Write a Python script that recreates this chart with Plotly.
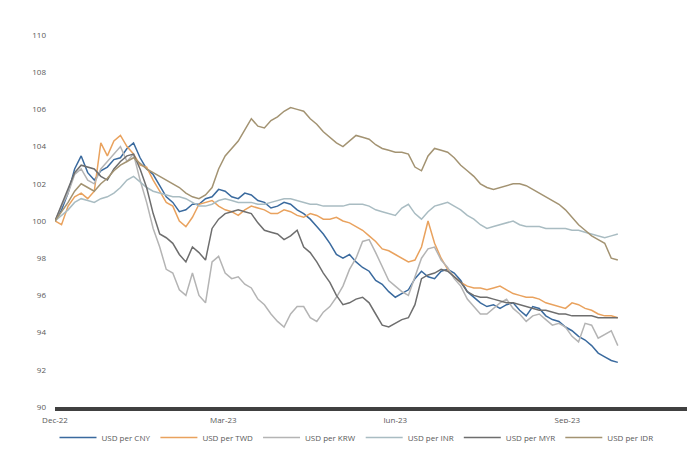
import pandas as pd
import plotly.graph_objects as go

dates = pd.date_range("2022-12-01", periods=87, freq="84h")

series_names = ["USD per CNY", "USD per TWD", "USD per KRW", "USD per INR", "USD per MYR", "USD per IDR"]

cny = [100.0, 100.6, 101.5, 102.8, 103.5, 102.6, 102.2, 102.7, 102.9, 103.3,
       103.4, 103.9, 104.2, 103.4, 102.8, 102.5, 101.9, 101.3, 101.0, 100.5,
       100.6, 100.9, 100.9, 101.2, 101.3, 101.7, 101.6, 101.3, 101.2, 101.5,
       101.4, 101.1, 101.0, 100.7, 100.8, 101.0, 100.9, 100.6, 100.4, 100.1,
       99.7, 99.3, 98.8, 98.2, 98.0, 98.2, 97.8, 97.5, 97.3, 96.8,
       96.6, 96.2, 95.9, 96.1, 96.3, 96.9, 97.3, 97.0, 96.9, 97.3,
       97.4, 97.2, 96.8, 96.2, 95.9, 95.6, 95.4, 95.5, 95.3, 95.5,
       95.6, 95.2, 94.9, 95.4, 95.3, 94.9, 94.7, 94.6, 94.3, 94.1,
       93.8, 93.6, 93.3, 92.9, 92.7, 92.5, 92.4]
twd = [100.0, 99.8, 100.8, 101.3, 101.5, 101.2, 101.6, 104.2, 103.5, 104.3,
       104.6, 104.0, 103.6, 103.0, 102.9, 102.2, 101.6, 101.0, 100.8, 100.0,
       99.7, 100.2, 100.9, 101.0, 101.1, 100.8, 100.6, 100.5, 100.3, 100.6,
       100.8, 100.7, 100.6, 100.4, 100.4, 100.6, 100.5, 100.3, 100.2, 100.4,
       100.3, 100.1, 100.1, 100.2, 100.0, 99.9, 99.7, 99.5, 99.2, 98.9,
       98.5, 98.4, 98.2, 98.0, 97.8, 97.9, 98.6, 100.0, 98.8, 98.0,
       97.4, 97.0, 96.7, 96.5, 96.4, 96.4, 96.3, 96.4, 96.5, 96.3,
       96.1, 96.0, 95.9, 95.9, 95.8, 95.6, 95.5, 95.4, 95.3, 95.6,
       95.5, 95.3, 95.2, 95.0, 94.9, 94.9, 94.8]
krw = [100.0, 100.8, 101.5, 102.5, 102.8, 102.2, 102.0, 102.8, 103.2, 103.6,
       104.0, 103.2, 103.6, 102.2, 101.0, 99.6, 98.6, 97.4, 97.2, 96.3,
       96.0, 97.2, 96.0, 95.6, 97.8, 98.1, 97.2, 96.9, 97.0, 96.6,
       96.4, 95.8, 95.5, 95.0, 94.6, 94.3, 95.0, 95.4, 95.4, 94.8,
       94.6, 95.1, 95.4, 95.9, 96.5, 97.4, 98.0, 98.9, 99.0, 98.3,
       97.5, 96.8, 96.5, 96.2, 96.0, 97.0, 98.0, 98.5, 98.6, 97.9,
       97.5, 96.9, 96.5, 95.8, 95.4, 95.0, 95.0, 95.3, 95.6, 95.8,
       95.3, 95.0, 94.6, 94.9, 95.0, 94.7, 94.4, 94.5, 94.3, 93.8,
       93.5, 94.5, 94.4, 93.7, 93.9, 94.1, 93.3]
inr = [100.0, 100.3, 100.6, 101.0, 101.2, 101.1, 101.0, 101.2, 101.3, 101.5,
       101.8, 102.2, 102.4, 102.1, 101.8, 101.6, 101.5, 101.4, 101.3, 101.3,
       101.2, 101.0, 100.8, 100.8, 100.9, 101.1, 101.2, 101.1, 101.0, 101.0,
       101.0, 100.9, 100.9, 101.0, 101.1, 101.2, 101.2, 101.1, 101.0, 100.9,
       100.9, 100.8, 100.8, 100.8, 100.8, 100.9, 100.9, 100.9, 100.8, 100.6,
       100.5, 100.4, 100.3, 100.7, 100.9, 100.4, 100.1, 100.5, 100.8, 100.9,
       101.0, 100.8, 100.6, 100.3, 100.1, 99.8, 99.6, 99.7, 99.8, 99.9,
       100.0, 99.8, 99.7, 99.7, 99.7, 99.6, 99.6, 99.6, 99.6, 99.5,
       99.5, 99.4, 99.3, 99.2, 99.1, 99.2, 99.3]
myr = [100.0, 100.9, 101.8, 102.6, 103.0, 102.9, 102.8, 102.4, 102.2, 102.8,
       103.2, 103.5, 103.6, 102.8, 101.8, 100.4, 99.3, 99.1, 98.8, 98.2,
       97.8, 98.6, 98.3, 97.9, 99.6, 100.1, 100.4, 100.5, 100.6, 100.5,
       100.4, 99.9, 99.5, 99.4, 99.3, 99.0, 99.2, 99.5, 98.6, 98.3,
       97.8, 97.2, 96.7, 96.0, 95.5, 95.6, 95.8, 95.9, 95.6, 95.0,
       94.4, 94.3, 94.5, 94.7, 94.8, 95.5, 96.9, 97.1, 97.2, 97.4,
       97.3, 97.0, 96.7, 96.2, 96.0, 95.9, 95.9, 95.8, 95.7, 95.6,
       95.6, 95.5, 95.4, 95.3, 95.2, 95.2, 95.1, 95.0, 95.0, 94.9,
       94.9, 94.9, 94.9, 94.8, 94.8, 94.8, 94.8]
idr = [100.0, 100.5, 101.0, 101.6, 102.0, 101.8, 101.6, 102.0, 102.3, 102.7,
       103.0, 103.2, 103.4, 103.1, 102.8, 102.6, 102.4, 102.2, 102.0, 101.8,
       101.5, 101.3, 101.2, 101.4, 101.8, 102.8, 103.5, 103.9, 104.3, 104.9,
       105.5, 105.1, 105.0, 105.4, 105.6, 105.9, 106.1, 106.0, 105.9, 105.5,
       105.2, 104.8, 104.5, 104.2, 104.0, 104.3, 104.6, 104.5, 104.4, 104.1,
       103.9, 103.8, 103.7, 103.7, 103.6, 102.9, 102.7, 103.5, 103.9, 103.8,
       103.7, 103.4, 103.0, 102.7, 102.4, 102.0, 101.8, 101.7, 101.8, 101.9,
       102.0, 102.0, 101.9, 101.7, 101.5, 101.3, 101.1, 100.9, 100.6, 100.2,
       99.8, 99.5, 99.2, 99.0, 98.8, 98.0, 97.9]

values = [cny, twd, krw, inr, myr, idr]
colors = ["#3A6A9E", "#E9A25E", "#B4B4B4", "#A9BCC2", "#6E6E6E", "#A39372"]

y_ticks = [90, 92, 94, 96, 98, 100, 102, 104, 106, 108, 110]
x_ticks = ["2022-12-01", "2023-03-01", "2023-06-01", "2023-09-01"]
x_labels = ["Dec-22", "Mar-23", "Jun-23", "Sep-23"]

fig = go.Figure()
for name, vals, col in zip(series_names, values, colors):
    fig.add_trace(go.Scatter(x=dates, y=vals, mode="lines", name=name,
                             line=dict(color=col, width=1.5)))

fig.update_layout(
    width=697, height=452,
    margin=dict(l=47, r=18, t=27, b=53),
    plot_bgcolor="white", paper_bgcolor="white",
    font=dict(family="Open Sans", size=8, color="#595959"),
    legend=dict(orientation="h", x=0.5, xanchor="center", xref="container",
                y=0.05, yanchor="middle", yref="container",
                font=dict(size=8, color="#595959"), itemwidth=37),
    showlegend=True,
)
fig.update_xaxes(range=["2022-12-01", "2023-11-04"], tickvals=x_ticks, ticktext=x_labels,
                 showgrid=False, showline=True, linecolor="#404040", linewidth=4,
                 ticks="", zeroline=False, automargin=False, ticklabelstandoff=2)
fig.update_yaxes(range=[90, 110], tickvals=y_ticks, showgrid=False, showline=False,
                 zeroline=False, ticks="", ticklabelstandoff=8, automargin=False)

fig.write_html("out.html")
